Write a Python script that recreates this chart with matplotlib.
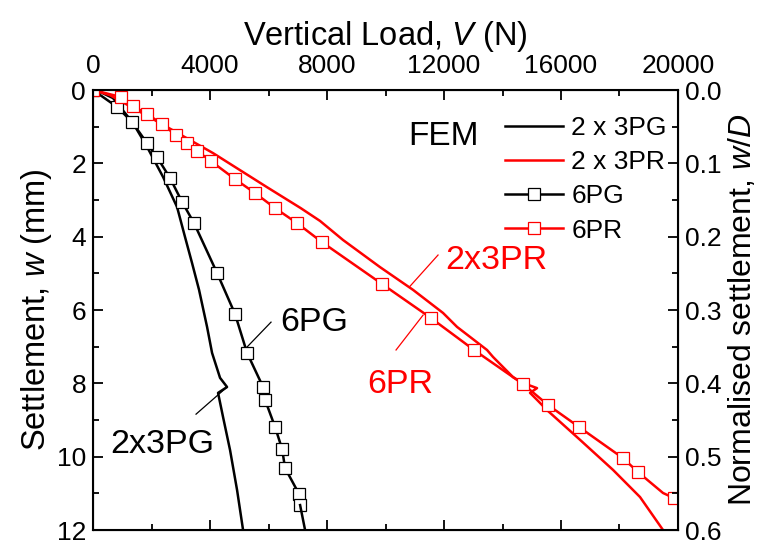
import numpy as np
import matplotlib
matplotlib.use('Agg')
import matplotlib.pyplot as plt
from matplotlib.ticker import MultipleLocator

plt.rcParams['font.family'] = ['Liberation Sans', 'DejaVu Sans']
plt.rcParams['mathtext.fontset'] = 'custom'
plt.rcParams['mathtext.rm'] = 'Liberation Sans'
plt.rcParams['mathtext.it'] = 'Liberation Sans:italic'

# FEM results, load V (N) vs settlement w (mm)
v_2x3pg = [0, 240, 684, 1368, 1847, 2394, 2873, 3146, 3386, 3625, 3899, 4070,
           4343, 4583, 4275, 4446, 4685, 4925, 5130]
w_2x3pg = [0, 0.05, 0.22, 0.90, 1.55, 2.37, 3.19, 4.01, 4.72, 5.45, 6.46, 7.17,
           7.85, 8.10, 8.26, 8.92, 9.82, 10.91, 12.0]

v_2x3pr = [0, 581, 2291, 4103, 5949, 7100, 7761, 8548, 9813, 10941, 11967, 12445,
           13471, 13676, 14360, 14702, 15180, 14941, 15180, 15522, 16650, 17778,
           18701, 19488]
w_2x3pr = [0, 0.14, 0.90, 1.72, 2.65, 3.22, 3.57, 4.09, 4.83, 5.45, 6.08, 6.46,
           7.09, 7.28, 7.83, 7.99, 8.13, 8.26, 8.45, 8.73, 9.54, 10.36,
           11.10, 12.0]

v_6pg = [0, 821, 1334, 1847, 2189, 2633, 3044, 3454, 4241, 4856, 5267, 5814,
         5882, 6224, 6464, 6566, 7045, 7080, 7250]
w_6pg = [0, 0.46, 0.87, 1.45, 1.83, 2.40, 3.05, 3.63, 4.99, 6.11, 7.17, 8.10,
         8.45, 9.19, 9.79, 10.31, 11.02, 11.32, 12.0]

v_6pr = [0, 957, 1368, 1846, 2359, 2838, 3214, 3556, 4034, 4855, 5539, 6223,
         6975, 7830, 9881, 11556, 13026, 14702, 15556, 16616, 18120, 18633,
         19488, 19864]
w_6pr = [0, 0.19, 0.44, 0.65, 0.93, 1.23, 1.45, 1.66, 1.94, 2.43, 2.81, 3.22,
         3.63, 4.15, 5.29, 6.22, 7.09, 8.02, 8.59, 9.19, 10.04, 10.42,
         10.99, 11.13]

D = 20.0  # pile diameter (mm)

fig = plt.figure(figsize=(7.6, 5.44), dpi=100)
ax = fig.add_axes([0.1224, 0.0257, 0.7697, 0.8088])

lw = 1.8
ax.plot(v_2x3pg, w_2x3pg, color='black', lw=lw, label='2 x 3PG')
ax.plot(v_2x3pr, w_2x3pr, color='red', lw=lw, label='2 x 3PR')
ax.plot(v_6pg[:-1], w_6pg[:-1], color='black', lw=lw, marker='s', ms=8.5,
        mfc='white', mec='black', mew=0.9, label='6PG')
ax.plot(v_6pg[-2:], w_6pg[-2:], color='black', lw=lw)
ax.plot(v_6pr, w_6pr, color='red', lw=lw, marker='s', ms=8.5, mfc='white',
        mec='red', mew=0.9, markevery=list(range(22)) + [23], label='6PR')

ax.set_xlim(0, 20000)
ax.set_ylim(12, 0)
ax.xaxis.tick_top()
ax.xaxis.set_label_position('top')
ax.set_xticks([0, 4000, 8000, 12000, 16000, 20000])
ax.xaxis.set_minor_locator(MultipleLocator(2000))
ax.set_yticks([0, 2, 4, 6, 8, 10, 12])
ax.yaxis.set_minor_locator(MultipleLocator(1))
ax.tick_params(which='both', direction='in', top=True, bottom=True,
               labelsize=19, width=1.3, pad=5)
ax.tick_params(axis='x', pad=9)
ax.tick_params(which='major', length=7)
ax.tick_params(which='minor', length=4)
for s in ax.spines.values():
    s.set_linewidth(1.5)

ax.set_xlabel('Vertical Load, $\\it{V}$ (N)', fontsize=23.5, labelpad=6)
ax.set_ylabel('Settlement, $\\it{w}$ (mm)', fontsize=23.5, labelpad=2)

ax2 = ax.twinx()
ax2.set_ylim(12 / D, 0)
ax2.set_yticks([0.0, 0.1, 0.2, 0.3, 0.4, 0.5, 0.6])
ax2.set_yticklabels(['0.0', '0.1', '0.2', '0.3', '0.4', '0.5', '0.6'])
ax2.yaxis.set_minor_locator(MultipleLocator(0.05))
ax2.tick_params(which='both', direction='in', labelsize=19, width=1.3, pad=5)
ax2.tick_params(which='major', length=7)
ax2.tick_params(which='minor', length=4)
ax2.set_ylabel('Normalised settlement, $\\it{w/D}$', fontsize=23, labelpad=4)

ax.text(11967, 1.28, 'FEM', fontsize=24, ha='center', va='center')

ax.legend(loc='upper left', bbox_to_anchor=(0.705, 0.94), frameon=False,
          fontsize=19, handlelength=2.2, handletextpad=0.3, labelspacing=0.38,
          borderpad=0, borderaxespad=0)

# labels with leader lines
ax.text(13778, 4.64, '2x3PR', color='red', fontsize=24.5, ha='center', va='center')
ax.plot([11796, 10839], [4.50, 5.35], color='red', lw=0.9)
ax.text(10496, 8.04, '6PR', color='red', fontsize=24.5, ha='center', va='center')
ax.plot([10360, 11283], [7.09, 6.14], color='red', lw=0.9)
ax.text(7556, 6.33, '6PG', color='black', fontsize=24.5, ha='center', va='center')
ax.plot([6086, 5265], [6.33, 7.01], color='black', lw=0.9)
ax.text(2359, 9.68, '2x3PG', color='black', fontsize=24.5, ha='center', va='center')
ax.plot([3522, 4581], [8.84, 8.10], color='black', lw=0.9)

fig.savefig('out.png', dpi=100)
